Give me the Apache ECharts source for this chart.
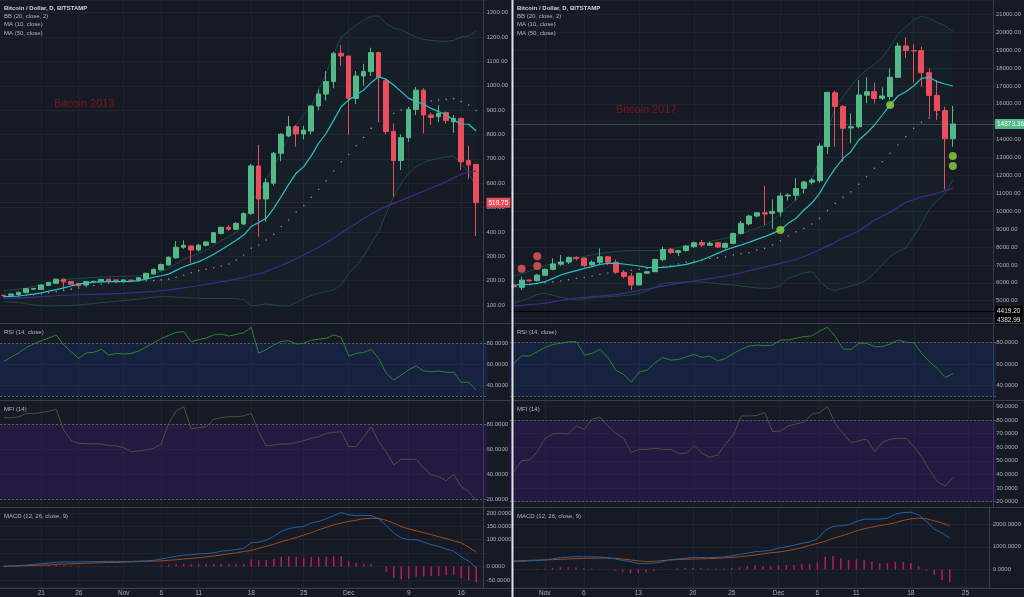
<!DOCTYPE html>
<html><head><meta charset="utf-8">
<script src="https://cdn.jsdelivr.net/npm/echarts@6.0.0/dist/echarts.min.js"></script>
<style>html,body{margin:0;padding:0;background:#161a25;overflow:hidden}#chart{width:1024px;height:597px}</style>
</head><body><div id="chart"></div>
<script>
// ---------------- 2013 (left) ----------------
const start2013 = '2013-10-16';
const ticks2013 = ['2013-10-21','2013-10-26','2013-11-01','2013-11-06','2013-11-11','2013-11-18','2013-11-25','2013-12-01','2013-12-09','2013-12-16'];
const open2013  = [140,140,143,151,165,164,180,189,206,196,188,182,195,196,206,203,201,202,202,209,227,244,264,294,337,342,326,345,356,394,419,411,432,476,671,535,600,723,794,832,802,814,917,966,1017,1133,1122,948,1040,1058,1136,1021,812,693,787,903,982,880,873,890,852,866,693,677];
const close2013 = [138,145,152,167,168,182,193,206,195,185,179,196,197,205,199,201,203,201,212,230,246,266,296,337,345,326,346,359,397,419,411,435,476,671,535,602,723,801,832,802,818,917,966,1017,1133,1122,948,1040,1058,1136,1035,812,693,787,903,982,880,870,887,857,866,688,675,519.75];
const low2013   = [136,139,142,150,163,163,178,187,165,183,176,180,193,195,197,199,200,199,200,207,225,242,262,290,330,271,320,340,354,390,405,408,430,470,380,442,590,690,790,750,780,800,900,940,990,1080,798,925,1000,1040,853,800,545,654,770,880,805,839,850,845,807,654,616,383];
const high2013  = [142,147,154,169,170,184,195,208,208,198,190,198,199,207,208,204,204,204,214,232,250,270,300,362,365,346,350,362,400,422,428,440,480,680,757,620,728,805,876,840,835,920,985,1060,1140,1167,1122,1060,1090,1156,1140,1030,845,800,910,995,990,890,920,895,880,870,753,680];
const bbUpper2013 = [160,162,165,170,177,183,190,197,203,207,209,211,213,215,216,217,218,219,220,224,230,238,250,270,288,300,312,325,345,365,380,400,425,524,565,613,668,729,791,839,880,914,983,1051,1133,1200,1225,1250,1270,1286,1286,1256,1237,1229,1215,1200,1190,1186,1184,1182,1186,1200,1205,1225];
const bbLower2013 = [114,112,110,105,100,98,96,96,97,98,100,103,106,109,112,115,118,121,124,128,132,134,134,132,130,128,128,127,127,127,127,126,122,96,100,104,100,96,96,110,127,138,148,155,162,182,230,260,300,353,400,476,545,600,640,668,685,695,702,708,711,682,641,586];
const bbBasis2013 = [137,137,138,140,142,145,150,155,160,165,170,175,180,185,190,193,195,197,198,199,200,203,206,214,222,232,241,247,253,260,268,285,305,333,346,367,390,422,449,482,508,542,575,609,650,688,718,754,788,825,853,873,887,900,911,921,930,937,941,944,947,935,921,898];
const ma10_2013 = [134,135,137,141,145,150,157,163,170,178,186,190,194,195,196,196,196,197,200,206,214,220,227,242,257,268,278,292,308,327,346,366,387,422,439,456,497,545,595,641,668,712,764,805,859,914,942,962,983,1013,1037,1026,1003,976,948,935,924,907,894,880,859,843,842,814];
const ma50_2013 = [127,128,129,130,132,134,136,138,140,141,142,143,144,145,146,147,148,150,152,154,156,159,162,166,170,175,180,185,190,195,200,206,212,222,228,238,250,262,276,290,305,322,338,355,375,396,416,435,455,474,490,505,517,530,542,555,568,580,593,606,622,636,645,650];
const rsi2013 = [63,67,71,76,79.4,82.5,85,87.9,78.4,72,65.8,71,71.5,74.3,69,70.6,69.8,70.5,72.8,76.5,80.5,84.5,87.5,90.4,91,81.6,83.5,85,87.9,88.8,86.9,88.4,90,95.1,70.6,74,78.5,81.8,82.5,79.4,80,82.8,84,84.7,87.9,85.7,68,70.5,71.5,74.3,65.8,51.7,45.4,50,55,58.6,53.9,53.2,53.9,52.6,52.6,43.2,43.2,35.9];
const mfi2013 = [85.3,85.3,86,88.8,88.8,89.5,90.5,92,75.5,66.9,64.8,64.5,64.3,64.3,62.9,62.9,61.3,58.1,58.7,59.5,60.8,64.3,80.8,90.9,94.1,76.3,77.3,78.1,84,85.3,86.1,86.1,86.7,88.8,74.1,62.7,63.5,64.3,64.3,65.3,66.9,68.8,70.1,72.8,73.6,74.1,62.1,62.1,70.1,78.1,66.1,58.1,47.5,52,52,52,45.3,39.5,38.1,34.9,40,30.1,26.1,18.7];
const macd2013 = [1,2,3,5,8,10,13,16,17,17,17,18,18,19,19,19,19,19,20,21,23,28,33,38,42,44,47,48,51,57,60,63,68,88,91,98,112,131,141,147,149,162,168,178,190,201,193,190,190,190,178,153,125,106,100,100,91,81,75,65,57,36,20,-5];
const signal2013 = [1,1,2,3,4,5,6,8,9,10,11,12,13,14,15,15,16,17,18,19,20,21,23,25,28,30,33,36,39,43,47,51,56,60,68,75,83,92,100,108,117,126,137,146,156,162,168,173,178,180,179,172,162,149,140,133,126,119,111,104,96,88,72,53];
const hist2013 = [1,1,2,2,3,3,4,5,4,3,2,2,1,1,1,0.5,0.5,0.5,0.5,1,2,4,7,10,10,8,8,8,9,9,8,8,9,26,23,24,28,35,38,35,33,35,35,36,38,38,20,14,10,8,0,-20,-42,-48,-46,-38,-38,-36,-36,-33,-33,-44,-51,-60];

// ---------------- 2017 (right) ----------------
const start2017 = '2017-10-28';
const ticks2017 = ['2017-11-01','2017-11-06','2017-11-13','2017-11-20','2017-11-25','2017-12-01','2017-12-06','2017-12-11','2017-12-18','2017-12-25'];
const open2017  = [5830,5745,6150,6120,6420,6750,7040,7160,7420,7380,7000,7150,7450,7150,6580,6370,5880,6540,6620,7290,7860,7700,7800,8020,8240,8100,8240,7980,8200,8760,9290,9730,9910,9880,9960,10850,10890,11280,11620,11700,13610,16620,15850,14650,14720,16480,16680,16310,16400,17480,19230,18970,18970,17740,16470,15620,14050];
const close2017 = [5780,6150,6110,6430,6750,7050,7160,7420,7360,6960,7150,7450,7150,6590,6350,5880,6530,6620,7300,7860,7690,7790,8050,8240,8110,8200,8000,8200,8760,9320,9730,9910,9840,9990,10850,10900,11270,11630,11740,13640,16640,15850,14630,14720,16490,16680,16300,16440,17480,19230,18970,18960,17740,16470,15620,14050,14873.36];
const low2017   = [5700,5600,6050,6080,6380,6700,6950,7050,7250,6900,6950,7000,7000,6500,6250,5596,5876,6500,6600,7200,7600,7500,7750,7950,8000,8050,7950,7900,8150,8700,9200,9650,9229,9023,9700,10600,10588,11000,11500,11594,13196,13600,12768,13792,14630,16027,16027,16213,16213,17480,18541,17182,16958,15282,15096,11221,13606];
const high2017  = [5900,6341,6200,6500,6800,7366,7552,7459,7480,7420,7250,7925,7500,7300,6700,6550,6565,6650,7350,8018,7950,7850,8100,8300,8390,8300,8280,8250,8800,9450,9800,9950,11408,10663,11035,11000,11836,11700,11850,13792,16642,16735,15934,15468,17331,17480,17182,16921,17983,19417,19715,19324,19193,17983,17331,15841,15878];
const bbUpper2017 = [6378,6500,6650,6800,6950,7086,7150,7250,7380,7480,7560,7640,7700,7750,7780,7800,7810,7800,7800,7831,7900,7980,8050,8111,8200,8300,8400,8483,8600,8750,8900,9050,9200,9450,9880,10250,10626,11200,11743,12900,14500,15800,16400,17000,17517,17900,18200,18600,19200,19900,20300,20700,20900,20780,20550,20350,20069];
const bbLower2017 = [4851,5000,5150,5350,5410,5300,5180,5100,5075,5100,5150,5200,5224,5250,5280,5317,5400,5550,5750,5969,6000,6030,6062,6062,6050,6000,5950,5900,5876,5820,5760,5720,5689,5700,5820,6248,6400,6550,6621,6100,5700,5559,5700,5820,5950,6150,6550,7000,7459,7750,7950,8576,9300,10100,10600,10998,11743];
const bbBasis2017 = [5800,5850,5900,5950,6000,6050,6100,6170,6248,6300,6378,6472,6550,6600,6650,6700,6751,6790,6830,6880,6950,7050,7150,7220,7273,7366,7400,7440,7552,7620,7683,7831,7925,8111,8353,8620,8856,9042,9284,9601,10030,10440,10775,11091,11501,11929,12395,12767,13233,13699,14165,14630,14965,15200,15400,15550,15650];
const ma10_2017 = [5876,5894,5913,5969,6062,6248,6434,6565,6677,6807,6900,7031,7086,7086,7049,6993,6937,6863,6844,6863,6900,6956,7031,7142,7273,7459,7645,7831,7980,8111,8260,8427,8576,8763,8949,9321,9601,10067,10440,10998,11743,12395,12954,13327,13979,14351,14816,15375,15934,16437,16679,16995,17424,17480,17238,17107,16995];
const ma50_2017 = [4702,4740,4780,4815,4851,4930,5010,5090,5150,5190,5230,5260,5300,5340,5410,5490,5580,5650,5730,5810,5890,5969,6040,6110,6170,6230,6300,6380,6460,6560,6680,6780,6880,6990,7086,7190,7300,7470,7645,7850,8050,8270,8500,8700,8900,9200,9500,9720,9950,10220,10500,10650,10800,10900,11000,11150,11277];
const rsi2017 = [60.6,67.8,67.5,71.6,75.6,78.4,79.4,80.9,80.9,68.4,70,73.8,66.3,54.4,50.6,43.4,52.8,54.4,61.3,66.3,63.8,64.4,66.9,69.1,66.3,67.5,63.1,65.3,70,73.8,76.9,77.8,77.2,77.8,82.5,82.5,84.1,85.6,86.3,90.9,94.4,85.6,74.1,73.8,79.4,79.4,76.3,76.3,78.8,82.5,80.3,80,70,62.2,55.9,47.5,51.3];
const mfi2017 = [42,50.1,50.6,56.7,66.5,69.7,70.2,69.7,75.6,73.1,80.5,82,75.6,70.2,66.5,56,58.4,58.4,59.2,58.4,58.4,55.5,55.5,61.1,55.5,52.6,54.3,62.4,69,82.9,82.9,83.2,85.4,71.4,71.9,75.6,77.1,78.3,84.2,85.4,89.8,77.1,70.2,63.3,64.8,65.8,56.7,63.6,65.8,66.5,66.5,60.4,53.1,43.3,34.7,31.5,37.9];
const macd2017 = [348,360,380,400,420,470,522,545,565,560,555,551,522,470,400,348,261,265,275,330,420,460,493,536,530,522,535,551,600,667,720,783,810,841,942,1000,1072,1150,1217,1348,1725,1899,1930,1971,2116,2217,2217,2217,2261,2435,2507,2522,2406,2116,1783,1609,1391];
const signal2017 = [377,390,405,415,420,435,450,465,478,490,500,505,507,490,460,420,380,348,360,390,420,440,449,460,470,478,490,510,530,560,594,640,690,740,768,820,880,960,1058,1150,1246,1370,1470,1580,1700,1790,1870,1930,1990,2060,2160,2230,2261,2232,2145,2043,1928];
const hist2017 = [0,5,10,20,30,72,101,101,87,58,43,14,-14,-58,-101,-159,-159,-130,-58,14,20,43,72,72,58,43,43,43,72,87,159,188,159,159,188,203,203,232,232,304,551,594,493,420,449,420,348,275,275,348,333,275,159,-58,-246,-464,-565];
const redDots2017 = [[1,6788],[3,7477],[3,6937]];
const greenDots2017 = [[34,8949],[48,15934],[56,13084],[56,12525]];
const extraLevels2017 = [4419.20, 4382.99];

// ---------------- rendering ----------------
const FONT = '"Liberation Sans", Arial, sans-serif';
const TXT = '#a9acb5', GRIDC = '#1f2330', AXC = '#3a3e4a', SEPC = '#3a3e4a';
const UP = '#53b987', DOWN = '#eb4d5c';
const ROWS = [{top:0,h:323},{top:323,h:77},{top:400,h:107},{top:507,h:81}];
const MONTHS = ['Jan','Feb','Mar','Apr','May','Jun','Jul','Aug','Sep','Oct','Nov','Dec'];

function makeDates(start, n) {
  const p = start.split('-').map(Number), out = [];
  for (let i = 0; i < n; i++) out.push(new Date(Date.UTC(p[0], p[1]-1, p[2]+i)).toISOString().slice(0,10));
  return out;
}
function fmtDate(v) { const d = +v.slice(8,10), m = +v.slice(5,7); return d === 1 ? MONTHS[m-1] : String(d); }

const panels = [
  { start:start2013, n:65, left:-2.06, width:489.5, offset:-4, ticks:ticks2013,
    o:open2013, c:close2013, l:low2013, h:high2013, up:bbUpper2013, lo:bbLower2013, basis:bbBasis2013,
    ma10:ma10_2013, ma50:ma50_2013, rsi:rsi2013, mfi:mfi2013, macd:macd2013, sig:signal2013, hist:hist2013,
    ranges:[[26.1,1352,13],[26.5,99.2,4],[13.8,99.5,4],[-76.7,222,5]], hide:[50],
    lastColor:DOWN, lastLine:'rgba(235,77,92,0.12)', red:[], green:[], levels:[] },
  { start:start2017, n:62, left:509.8, width:486.4, offset:-3, ticks:ticks2017,
    o:open2017, c:close2017, l:low2017, h:high2017, up:bbUpper2017, lo:bbLower2017, basis:bbBasis2017,
    ma10:ma10_2017, ma50:ma50_2017, rsi:rsi2017, mfi:mfi2017, macd:macd2017, sig:signal2017, hist:hist2017,
    ranges:[[3754,21800,17],[26.7,98.3,4],[16.1,94.6,8],[-770,2752,4]], hide:[],
    lastColor:UP, lastLine:'rgba(120,160,150,0.35)', red:redDots2017, green:greenDots2017, levels:extraLevels2017 }
];

const grid = [], xAxis = [], yAxis = [], series = [];
panels.forEach((P, k) => {
  const g0 = k*4;
  const cats = makeDates(P.start, P.n);
  const isTick = (i, v) => P.ticks.indexOf(v) >= 0;
  ROWS.forEach((r, j) => {
    grid.push({left:P.left, top:r.top, width:P.width, height:r.h, show:false});
    xAxis.push({type:'category', gridIndex:g0+j, data:cats, boundaryGap:true,
      axisLine:{show:false}, axisTick:{show:false},
      axisLabel: j === 3 ? {show:true, interval:isTick, formatter:fmtDate, color:TXT, fontSize:6.5, margin:3, fontFamily:FONT} : {show:false},
      splitLine:{show:true, interval:isTick, alignWithLabel:true, lineStyle:{color:GRIDC, width:1}}});
    const rg = P.ranges[j];
    yAxis.push({type:'value', gridIndex:g0+j, position:'right', offset:P.offset, min:rg[0], max:rg[1], splitNumber:rg[2],
      axisLine:{show:true, lineStyle:{color:AXC, width:1}}, axisTick:{show:false},
      axisLabel:{color:TXT, fontSize:6, margin:3, fontFamily:FONT, showMinLabel:false, showMaxLabel:false,
        formatter: v => (j === 3 && P.hide.indexOf(v) >= 0) ? '' : v.toFixed(j === 0 ? 2 : 4)},
      splitLine:{show:true, lineStyle:{color:GRIDC, width:1}}});
  });
  const ax = (j) => ({xAxisIndex:g0+j, yAxisIndex:g0+j});
  // Bollinger bands
  series.push(Object.assign({type:'line', data:P.lo, stack:'bb'+k, symbol:'none', z:2, silent:true,
    lineStyle:{color:'#1d4a49', width:1}}, ax(0)));
  series.push(Object.assign({type:'line', data:P.up.map((u,i)=>u-P.lo[i]), stack:'bb'+k, symbol:'none', z:2, silent:true,
    lineStyle:{color:'#1d4a49', width:1}, areaStyle:{color:'rgba(38,166,154,0.05)'}}, ax(0)));
  series.push(Object.assign({type:'line', data:P.basis, symbol:'circle', symbolSize:1.6, showSymbol:true, z:3, silent:true,
    lineStyle:{width:0, opacity:0}, itemStyle:{color:'#8d909a'}}, ax(0)));
  // candles
  const markData = [{yAxis:P.c[P.c.length-1], lineStyle:{color:P.lastLine, type:'solid', width:1},
    label:{show:true, position:'end', distance:-1, formatter:P.c[P.c.length-1].toFixed(2), color:'#fff',
      backgroundColor:P.lastColor, padding:[2,2,1,2], fontSize:6.5, fontFamily:FONT}}];
  P.levels.forEach((lv, q) => markData.push({yAxis:lv, lineStyle:{color:'#000', type:'solid', width:1},
    label:{show:true, position:'end', distance:-1, offset:[0, q*8], formatter:lv.toFixed(2), color:'#e6e6e6',
      backgroundColor:'#000', padding:[2,2,1,2], fontSize:6.5, fontFamily:FONT}}));
  series.push(Object.assign({type:'candlestick', z:3, silent:true, barWidth: k === 0 ? 5 : 5.5,
    data:P.o.map((o,i)=>[o, P.c[i], P.l[i], P.h[i]]),
    itemStyle:{color:UP, color0:DOWN, borderColor:UP, borderColor0:DOWN, borderWidth:1},
    markLine:{silent:true, symbol:'none', data:markData}}, ax(0)));
  series.push(Object.assign({type:'line', data:P.ma50, symbol:'none', z:4, silent:true, lineStyle:{color:'#3b2d8e', width:1.2}}, ax(0)));
  series.push(Object.assign({type:'line', data:P.ma10, symbol:'none', z:4, silent:true, lineStyle:{color:'#26c3c9', width:1.2}}, ax(0)));
  if (P.red.length) series.push(Object.assign({type:'scatter', data:P.red, symbolSize:8, z:5, silent:true, itemStyle:{color:'#ea5b5e'}}, ax(0)));
  if (P.green.length) series.push(Object.assign({type:'scatter', data:P.green, symbolSize:8, z:5, silent:true, itemStyle:{color:'#8fd63c'}}, ax(0)));
  // RSI
  series.push(Object.assign({type:'line', data:P.rsi, symbol:'none', z:4, silent:true, lineStyle:{color:'#238a2b', width:1},
    markArea:{silent:true, itemStyle:{color:'rgba(29,53,120,0.32)'}, data:[[{yAxis:30},{yAxis:80}]]},
    markLine:{silent:true, symbol:'none', label:{show:false}, lineStyle:{color:'#5a5e6a', type:[2,2], width:1}, data:[{yAxis:80},{yAxis:30}]}}, ax(1)));
  // MFI
  series.push(Object.assign({type:'line', data:P.mfi, symbol:'none', z:4, silent:true, lineStyle:{color:'#46553f', width:1},
    markArea:{silent:true, itemStyle:{color:'rgba(69,26,120,0.32)'}, data:[[{yAxis:20},{yAxis:80}]]},
    markLine:{silent:true, symbol:'none', label:{show:false}, lineStyle:{color:'#5a5e6a', type:[2,2], width:1}, data:[{yAxis:80},{yAxis:20}]}}, ax(2)));
  // MACD
  series.push(Object.assign({type:'bar', data:P.hist, barWidth:1.5, z:3, silent:true, itemStyle:{color:'#c0185f'}}, ax(3)));
  series.push(Object.assign({type:'line', data:P.sig, symbol:'none', z:4, silent:true, lineStyle:{color:'#a24b16', width:1}}, ax(3)));
  series.push(Object.assign({type:'line', data:P.macd, symbol:'none', z:4, silent:true, lineStyle:{color:'#2062a8', width:1}}, ax(3)));
});

function txt(x, y, s, size, color, weight) {
  return {type:'text', x:x, y:y, z:100, silent:true,
    style:{text:s, fill:color, font:(weight||'normal')+' '+size+'px '+FONT, verticalAlign:'middle', align:'left'}};
}
function hline(x1, x2, y, color) {
  return {type:'line', z:90, silent:true, shape:{x1:x1, y1:y, x2:x2, y2:y}, style:{stroke:color, lineWidth:1}};
}
const graphic = [];
[[0, 511], [513, 1024]].forEach((rng, k) => {
  const x0 = k === 0 ? 4 : 517;
  [323.5, 400.5, 507.5, 588.5].forEach(y => graphic.push(hline(rng[0], rng[1], y, SEPC)));
  graphic.push(txt(x0, 8, 'Bitcoin / Dollar, D, BITSTAMP', 6, '#d1d4dc', 'bold'));
  graphic.push(txt(x0, 16.3, 'BB (20, close, 2)', 6, '#b2b5be'));
  graphic.push(txt(x0, 24.6, 'MA (10, close)', 6, '#b2b5be'));
  graphic.push(txt(x0, 32.9, 'MA (50, close)', 6, '#b2b5be'));
  graphic.push(txt(x0, 332, 'RSI (14, close)', 6, '#b2b5be'));
  graphic.push(txt(x0, 409, 'MFI (14)', 6, '#b2b5be'));
  graphic.push(txt(x0, 516, 'MACD (12, 26, close, 9)', 6, '#b2b5be'));
});
graphic.push(txt(54, 104, 'Bitcoin 2013', 11, '#7e1417'));
graphic.push(txt(616, 110, 'Bitcoin 2017', 11, '#7e1417'));
graphic.push({type:'rect', z:120, silent:true, shape:{x:511.5, y:0, width:2, height:597}, style:{fill:'#dfe1e6'}});

const chart = echarts.init(document.getElementById('chart'), null, {renderer:'canvas'});
chart.setOption({
  backgroundColor:'#161a25', animation:false,
  textStyle:{fontFamily:FONT},
  grid, xAxis, yAxis, series, graphic
});
</script></body></html>
